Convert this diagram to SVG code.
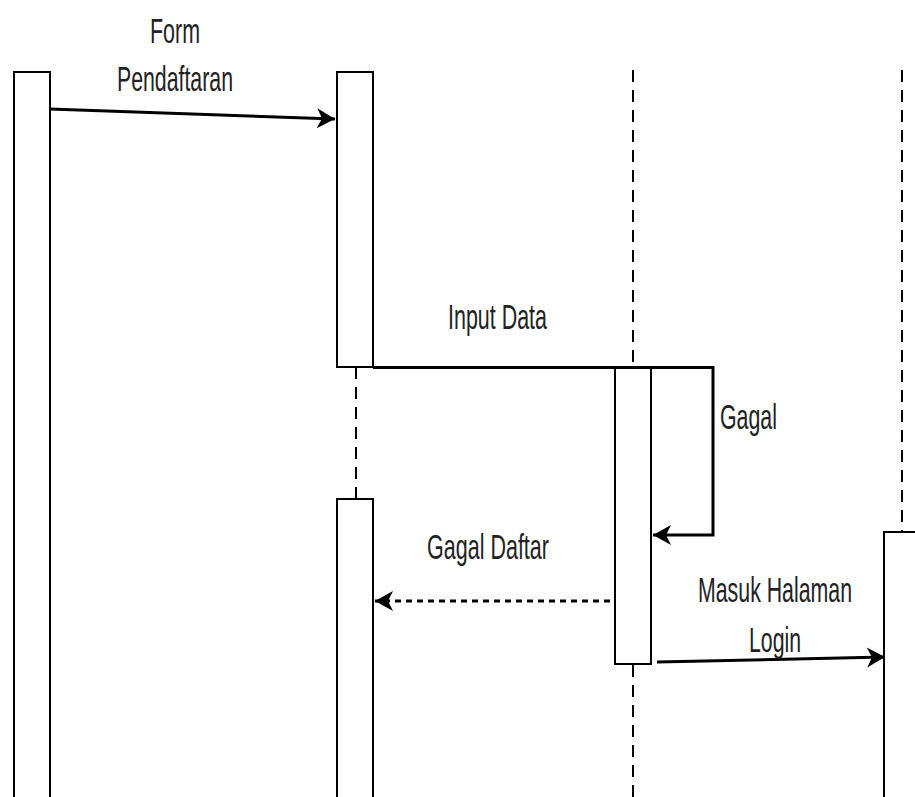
<svg xmlns="http://www.w3.org/2000/svg" width="915" height="797" viewBox="0 0 915 797">
<style>
.box{fill:#fff;stroke:#000;stroke-width:2}
.life{stroke:#000;stroke-width:2;stroke-dasharray:12 8;fill:none}
.msg{stroke:#000;stroke-width:3;fill:none}
.dash{stroke:#000;stroke-width:3;fill:none;stroke-dasharray:6 5}
text{font-family:"Liberation Sans",Arial,sans-serif;font-size:36px;fill:#222}
</style>
<defs>
<marker id="ah" markerUnits="userSpaceOnUse" markerWidth="24" markerHeight="24" refX="21" refY="12" orient="auto" viewBox="0 0 24 24">
<path d="M3,2 L21,12 L3,22 L8,12 Z" fill="#000"/>
</marker>
</defs>
<rect width="915" height="797" fill="#fff"/>
<g id="lifelines">
<line class="life" x1="356" y1="367" x2="356" y2="499"/>
<line class="life" x1="633" y1="70" x2="633" y2="367"/>
<line class="life" x1="633" y1="665" x2="633" y2="797"/>
<line class="life" x1="902" y1="70" x2="902" y2="532"/>
</g>
<g id="node1"><rect class="box" x="14" y="72" width="36" height="740"/></g>
<g id="node2"><rect class="box" x="337" y="72" width="36" height="295"/></g>
<g id="node3"><rect class="box" x="337" y="499" width="36" height="320"/></g>
<g id="node4"><rect class="box" x="615" y="368" width="36" height="296"/></g>
<g id="node5"><rect class="box" x="884" y="532" width="40" height="290"/></g>
<g id="connectors">
<line class="msg" x1="50" y1="109" x2="335" y2="119" marker-end="url(#ah)"/>
<polyline class="msg" points="373,367.5 713,367.5 713,535 653,535" marker-end="url(#ah)"/>
<line class="dash" x1="610" y1="601" x2="375" y2="601" marker-end="url(#ah)"/>
<line class="msg" x1="657" y1="662" x2="885" y2="657" marker-end="url(#ah)"/>
</g>
<g id="labels">
<text transform="matrix(0.6,0,0,1,150,43)" textLength="83.3" lengthAdjust="spacingAndGlyphs">Form</text>
<text transform="matrix(0.6,0,0,1,117,91)" textLength="193.3" lengthAdjust="spacingAndGlyphs">Pendaftaran</text>
<text transform="matrix(0.6,0,0,1,448,329)" textLength="165" lengthAdjust="spacingAndGlyphs">Input Data</text>
<text transform="matrix(0.6,0,0,1,720,429)" textLength="95" lengthAdjust="spacingAndGlyphs">Gagal</text>
<text transform="matrix(0.6,0,0,1,427,559)" textLength="203.3" lengthAdjust="spacingAndGlyphs">Gagal Daftar</text>
<text transform="matrix(0.6,0,0,1,698,602)" textLength="256.7" lengthAdjust="spacingAndGlyphs">Masuk Halaman</text>
<text transform="matrix(0.6,0,0,1,749,652)" textLength="86.7" lengthAdjust="spacingAndGlyphs">Login</text>
</g>
</svg>
